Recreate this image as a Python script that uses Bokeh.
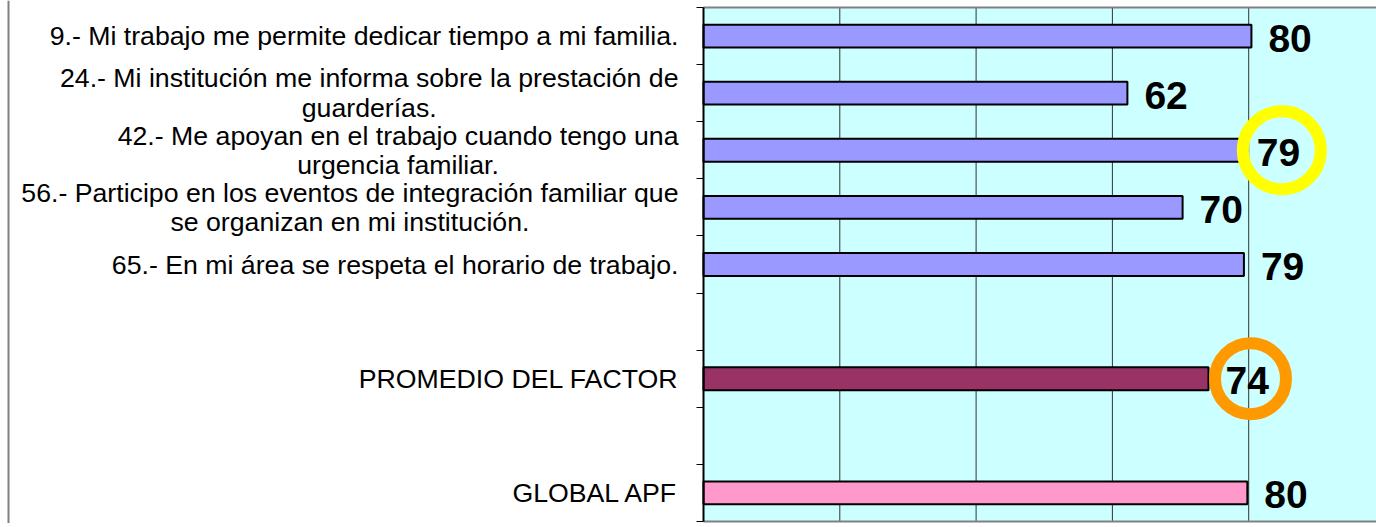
from bokeh.plotting import figure
from bokeh.models import Range1d, FixedTicker, ColumnDataSource
from bokeh.embed import file_html
from bokeh.resources import INLINE
from bokeh.core.properties import value

# ---- data ----
categories = [
    "9.- Mi trabajo me permite dedicar tiempo a mi familia.",
    "24.- Mi institución me informa sobre la prestación de\nguarderías.",
    "42.- Me apoyan en el trabajo cuando tengo una\nurgencia familiar.",
    "56.- Participo en los eventos de integración familiar que\nse organizan en mi institución.",
    "65.- En mi área se respeta el horario de trabajo.",
    "",
    "PROMEDIO DEL FACTOR",
    "",
    "GLOBAL APF",
]
values = [80.4, 62.2, 78.7, 70.3, 79.3, None, 74.1, None, 79.8]
bar_colors = ["#9999FF", "#9999FF", "#9999FF", "#9999FF", "#9999FF", None, "#993366", None, "#FF99CC"]
highlight_rows = [2, 6]
highlight_colors = ["#FFFF00", "#FF9900"]
highlight_sizes = [78, 71]
grid_ticks = [20, 40, 60, 80]

# ---- layout (pixels) ----
W, H = 1376, 523
BORDER_PX = 8         # outer chart border
ZERO_PX = 703         # page x of value 0
PPU_X = 6.815         # px per value unit
TOP_PX, BOT_PX = 7, 521
n = len(categories)

x_start = -ZERO_PX / PPU_X
x_end = (W - ZERO_PX) / PPU_X
PPU_Y = (BOT_PX - TOP_PX) / n
y_start = -(H - BOT_PX) / PPU_Y
y_end = n + TOP_PX / PPU_Y

ys = [n - i - 0.5 for i in range(n)]
idx = [i for i, v in enumerate(values) if v is not None]
src = ColumnDataSource(dict(
    y=[ys[i] for i in idx],
    v=[values[i] for i in idx],
    c=[bar_colors[i] for i in idx],
    t=[str(round(values[i])) for i in idx],
))
lab_idx = [i for i, c in enumerate(categories) if c]
lab_src = ColumnDataSource(dict(y=[ys[i] for i in lab_idx], t=[categories[i] for i in lab_idx],
                                x=[0] * len(lab_idx)))

p = figure(width=W, height=H, x_range=Range1d(x_start, x_end),
           y_range=Range1d(y_start, y_end),
           output_backend="svg", toolbar_location=None,
           min_border_left=0, min_border_right=0, min_border_top=0, min_border_bottom=0)
p.background_fill_color = "white"
p.border_fill_color = "white"
p.outline_line_color = None
p.xaxis.visible = False
p.xgrid.visible = False
p.ygrid.visible = False

# plot area background
p.quad(left=[0], right=[x_end * 1.1], bottom=[0], top=[n],
       fill_color="#CCFFFF", line_color=None)

# outer chart border (left side)
bx = x_start + BORDER_PX / PPU_X
p.segment(x0=[bx], y0=[y_start], x1=[bx], y1=[y_end], line_color="#808080", line_width=2)

# vertical grid lines within the plot area
p.segment(x0=grid_ticks, y0=[0] * len(grid_ticks), x1=grid_ticks, y1=[n] * len(grid_ticks),
          line_color="#333333", line_width=1)
# top / bottom border of plot area
p.segment(x0=[0, 0], y0=[0, n], x1=[x_end * 1.1, x_end * 1.1], y1=[0, n],
          line_color="#808080", line_width=2)

ya = p.yaxis[0]
ya.fixed_location = 0
ya.bounds = (0, n)
ya.ticker = FixedTicker(ticks=list(range(n + 1)))
ya.major_label_overrides = {k: "" for k in range(n + 1)}
ya.major_tick_out = 7
ya.major_tick_in = 0
ya.major_tick_line_color = "black"
ya.major_tick_line_width = 1
ya.minor_tick_line_color = None
ya.axis_line_color = "black"
ya.axis_line_width = 2

p.hbar(y="y", left=0, right="v", height=0.4, fill_color="c", line_color="black",
       line_width=2, source=src)

for row, col, sz in zip(highlight_rows, highlight_colors, highlight_sizes):
    p.scatter(x=[values[row] + 42 / PPU_X], y=[ys[row]], size=sz, marker="circle",
              fill_color=None, line_color=col, line_width=12)

p.text(x="v", y="y", text="t", x_offset=17, y_offset=2, source=src,
       text_baseline="middle", text_align="left",
       text_font=value("Liberation Sans"), text_font_style="bold",
       text_font_size="39px", text_color="black")

tkw = dict(x="x", y="y", text="t", x_offset=-25, source=lab_src,
           text_font=value("Liberation Sans"), text_font_size="26.7px",
           text_line_height=0.98, text_color="black", text_baseline="middle")
try:
    p.text(text_align="center", anchor="center_right", **tkw)
except Exception:
    p.text(text_align="right", **tkw)

open("out.html", "w").write(file_html(p, INLINE))
